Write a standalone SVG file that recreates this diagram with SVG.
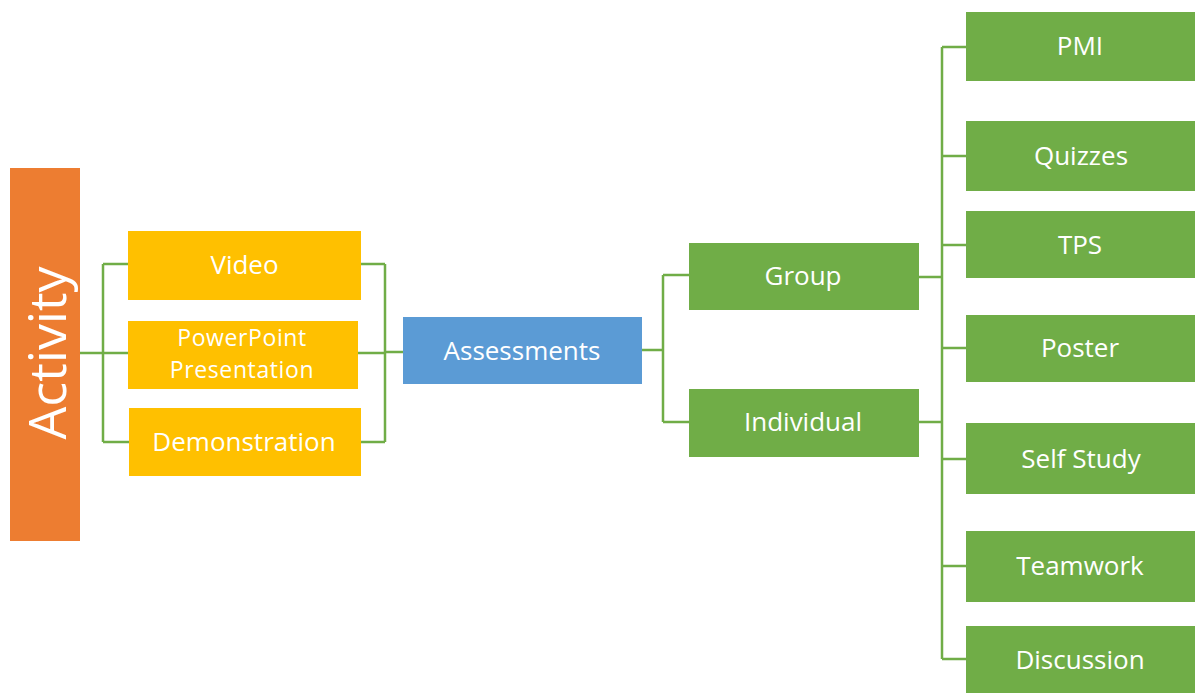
<svg xmlns="http://www.w3.org/2000/svg" width="1195" height="693" viewBox="0 0 1195 693">
<style>
.t{font-family:"Open Sans","Noto Sans","Liberation Sans",sans-serif;fill:#ffffff;text-anchor:middle;dominant-baseline:central;font-size:26px}
.p{font-size:23px;letter-spacing:0.6px}
.o{fill:#ED7D31}.y{fill:#FFC000}.b{fill:#5B9BD5}.g{fill:#70AD47}
.c{fill:none;stroke:#70AD47;stroke-width:2.5}
</style>
<rect width="1195" height="693" fill="#ffffff"/>
<g id="connectors">
<path class="c" d="M80 353H103M103 264V442M103 264H128M103 353H128M103 442H129"/>
<path class="c" d="M361 264H385M358 353H385M361 442H385M385 264V442M385 352H403"/>
<path class="c" d="M642 350H663M663 275V422M663 275H689M663 422H689"/>
<path class="c" d="M919 277H942M919 422H942M942 47V659M942 47H966M942 156H966M942 245H966M942 348H966M942 459H966M942 566H966M942 659H966"/>
</g>
<g id="activity"><rect class="o" x="10" y="168" width="70" height="373"/><text class="t" transform="translate(45 353) rotate(-90)" style="font-size:52px">Activity</text></g>
<g id="video"><rect class="y" x="128" y="231" width="233" height="69"/><text class="t" x="244.500" y="264">Video</text></g>
<g id="powerpoint"><rect class="y" x="128" y="321" width="230" height="68"/><text class="t p" x="242" y="337">PowerPoint</text><text class="t p" x="242" y="369">Presentation</text></g>
<g id="demonstration"><rect class="y" x="129" y="408" width="232" height="68"/><text class="t" x="244" y="441">Demonstration</text></g>
<g id="assessments"><rect class="b" x="403" y="317" width="239" height="67"/><text class="t" x="522" y="350">Assessments</text></g>
<g id="group"><rect class="g" x="689" y="243" width="230" height="67"/><text class="t" x="803" y="275">Group</text></g>
<g id="individual"><rect class="g" x="689" y="389" width="230" height="68"/><text class="t" x="803" y="421">Individual</text></g>
<g id="pmi"><rect class="g" x="966" y="12" width="229" height="69"/><text class="t" x="1080" y="45">PMI</text></g>
<g id="quizzes"><rect class="g" x="966" y="121" width="229" height="70"/><text class="t" x="1081" y="155">Quizzes</text></g>
<g id="tps"><rect class="g" x="966" y="211" width="229" height="67"/><text class="t" x="1080" y="244">TPS</text></g>
<g id="poster"><rect class="g" x="966" y="315" width="229" height="67"/><text class="t" x="1080" y="347">Poster</text></g>
<g id="selfstudy"><rect class="g" x="966" y="423" width="229" height="71"/><text class="t" x="1081" y="458">Self Study</text></g>
<g id="teamwork"><rect class="g" x="966" y="531" width="229" height="71"/><text class="t" x="1080" y="565">Teamwork</text></g>
<g id="discussion"><rect class="g" x="966" y="626" width="229" height="67"/><text class="t" x="1080" y="659">Discussion</text></g>
</svg>
